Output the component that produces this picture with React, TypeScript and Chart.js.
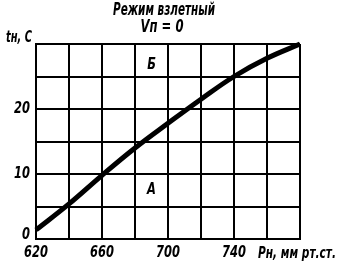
import React, { useEffect, useRef } from "react";
import { Chart, registerables } from "chart.js";

Chart.register(...registerables);

const pressure = [620, 640, 660, 680, 700, 720, 740, 760, 780];
const temperature = [1.4, 5.4, 9.8, 14.0, 17.8, 21.5, 25, 27.8, 30];
const xTickLabels = [620, 660, 700, 740];
const yTickLabels = [0, 10, 20];
const titleLines = ["Режим взлетный", "Vп = 0"];
const xAxisTitle = "Pн, мм рт.ст.";
const yAxisTitle = "tн, С";
const regionLabels = [
  { text: "Б", x: 690, y: 26.8 },
  { text: "А", x: 690, y: 7.5 },
];

const FONT = "'DejaVu Sans Condensed', 'DejaVu Sans', sans-serif";

function squeezedText(ctx: any, text: string, x: number, y: number, align: string, k: number) {
  ctx.save();
  ctx.translate(x, y);
  ctx.scale(k, 1);
  ctx.textAlign = align;
  ctx.fillText(text, 0, 0);
  ctx.restore();
}

function fitText(ctx: any, text: string, x: number, y: number, align: string, targetWidth: number) {
  const w = ctx.measureText(text).width;
  squeezedText(ctx, text, x, y, align, targetWidth / w);
}

export default function App() {
  const ref = useRef<HTMLCanvasElement | null>(null);

  useEffect(() => {
    if (!ref.current) return;
    const textPlugin = {
      id: "texts",
      afterDraw(chart: any) {
        const ctx = chart.ctx;
        const xs = chart.scales.x;
        const ys = chart.scales.y;
        const area = chart.chartArea;
        ctx.save();
        ctx.fillStyle = "#000";
        ctx.textBaseline = "middle";
        ctx.font = `italic bold 17px ${FONT}`;
        fitText(ctx, titleLines[0], 164, 11, "center", 102);
        fitText(ctx, titleLines[1], 162, 28, "center", 43);
        ctx.font = `italic bold 15px ${FONT}`;
        for (const r of regionLabels) {
          squeezedText(ctx, r.text, xs.getPixelForValue(r.x), ys.getPixelForValue(r.y), "center", 0.85);
        }
        for (const v of xTickLabels) {
          squeezedText(ctx, String(v), xs.getPixelForValue(v), 253, "center", 0.85);
        }
        for (const v of yTickLabels) {
          const py = Math.min(ys.getPixelForValue(v), area.bottom - 4);
          squeezedText(ctx, String(v), area.left - 6, py, "right", 0.85);
        }
        fitText(ctx, yAxisTitle, 6, 38, "left", 26);
        fitText(ctx, xAxisTitle, area.right - 42, 254, "left", 78);
        ctx.restore();
      },
    };
    const chart = new Chart(ref.current, {
      type: "line",
      data: {
        datasets: [
          {
            data: pressure.map((p, i) => ({ x: p, y: temperature[i] })),
            borderColor: "#000",
            borderWidth: 5,
            pointRadius: 0,
            tension: 0.4,
            fill: false,
            clip: false,
          } as any,
        ],
      },
      options: {
        animation: false,
        responsive: false,
        layout: { padding: { top: 44, right: 38, left: 0, bottom: 0 } },
        plugins: {
          legend: { display: false },
          tooltip: { enabled: false },
          title: { display: false },
        },
        scales: {
          x: {
            type: "linear",
            min: 620,
            max: 780,
            afterFit: (s: any) => {
              s.height = 29;
            },
            grid: { color: "#000", lineWidth: 2, drawTicks: false },
            border: { color: "#000", width: 2 },
            ticks: { stepSize: 20, display: false, autoSkip: false },
          },
          y: {
            type: "linear",
            min: 0,
            max: 30,
            afterFit: (s: any) => {
              s.width = 36;
            },
            grid: { color: "#000", lineWidth: 2, drawTicks: false },
            border: { color: "#000", width: 2 },
            ticks: { stepSize: 5, display: false, autoSkip: false },
          },
        },
      },
      plugins: [textPlugin],
    });
    return () => chart.destroy();
  }, []);

  return (
    <div style={{ position: "absolute", left: 0, top: 0, width: 338, height: 268, background: "#fff" }}>
      <canvas ref={ref} width={338} height={268} />
    </div>
  );
}
